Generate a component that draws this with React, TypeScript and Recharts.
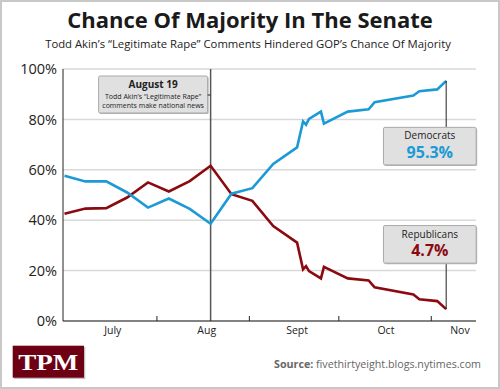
import React from 'react';
import { LineChart, Line, XAxis, YAxis, CartesianGrid, ReferenceLine, ReferenceDot } from 'recharts';

// days counted from July 1
const days = [0, 7, 14, 21, 28, 35, 42, 49, 56, 63, 70, 78, 80, 81, 82, 86, 87, 95, 102, 104, 117, 119, 125, 128];
const democrats = [57.6, 55.4, 55.4, 51.0, 45.0, 48.6, 44.5, 38.6, 50.5, 52.7, 62.3, 68.9, 79.2, 77.9, 80.2, 83.1, 78.3, 83.1, 84.0, 86.8, 89.5, 91.2, 91.9, 95.3];
const republicans = [42.6, 44.6, 44.8, 49.0, 55.0, 51.4, 55.5, 61.6, 50.3, 47.7, 37.7, 31.1, 20.5, 21.8, 19.8, 16.9, 21.5, 16.9, 16.1, 13.4, 10.5, 8.6, 7.9, 4.7];

const monthLabels = ['July', 'Aug', 'Sept', 'Oct', 'Nov'];
const monthLabelDays = [16.2, 47.7, 78, 107.8, 132.6];
const monthStartDays = [31, 62, 92, 123];
const yTicks = [0, 20, 40, 60, 80, 100];
const eventDay = 49;
const eventTitle = 'August 19';
const eventLines = ['Todd Akin\u2019s \u201cLegitimate Rape\u201d', 'comments make national news'];

const data = days.map((d, i) => ({ day: d, dem: democrats[i], rep: republicans[i] }));
const lastIdx = days.length - 1;

const BLUE = '#1b9ad6';
const RED = '#8b0a10';
const FONT = '"Open Sans", "DejaVu Sans", sans-serif';

const XTick = (props: any) => {
  const { x, y, payload } = props;
  const v = payload.value;
  const li = monthLabelDays.indexOf(v);
  if (li >= 0) {
    return (
      <text x={x} y={y + 13} textAnchor="middle" fontSize={10.5} fill="#222" fontFamily={FONT}>
        {monthLabels[li]}
      </text>
    );
  }
  return <line x1={x} x2={x} y1={y - 5} y2={y} stroke="#222" strokeWidth={1} />;
};

const EventLabel = (props: any) => {
  const vb = props.viewBox || {};
  const x = vb.x;
  const top = vb.y;
  const bx = x - 112;
  const by = top + 7;
  const bw = 109;
  const bh = 37;
  return (
    <g>
      <rect x={bx + 1} y={by + 1} width={bw} height={bh} fill="#b5b5b5" rx={1.5} />
      <rect x={bx} y={by} width={bw} height={bh} fill="#e0e0e0" stroke="#a9a9a9" strokeWidth={1} rx={1.5} />
      <line x1={bx + bw} x2={x} y1={top + 26} y2={top + 26} stroke="#222" strokeWidth={1} />
      <text x={bx + bw / 2} y={by + 12} textAnchor="middle" fontSize={10} fontWeight="bold" fill="#222" fontFamily={FONT}>
        {eventTitle}
      </text>
      <text x={bx + bw / 2} y={by + 22.5} textAnchor="middle" fontSize={7} fill="#222" fontFamily={FONT}>
        {eventLines[0]}
      </text>
      <text x={bx + bw / 2} y={by + 31.5} textAnchor="middle" fontSize={7} fill="#222" fontFamily={FONT}>
        {eventLines[1]}
      </text>
    </g>
  );
};

const makeCallout = (name: string, value: number, color: string, below: boolean) => (props: any) => {
  const { cx, cy } = props;
  const bw = 92.7;
  const bh = 37.6;
  const bx = cx - 62.7;
  const by = below ? cy + 46.5 : cy - 46 - bh;
  return (
    <g>
      <line x1={cx} x2={cx} y1={cy} y2={below ? by : by + bh} stroke="#222" strokeWidth={1} />
      <rect x={bx + 1} y={by + 1} width={bw} height={bh} fill="#b5b5b5" rx={1.5} />
      <rect x={bx} y={by} width={bw} height={bh} fill="#e0e0e0" stroke="#a9a9a9" strokeWidth={1} rx={1.5} />
      <text x={bx + bw / 2} y={by + 12} textAnchor="middle" fontSize={10} fill="#222" fontFamily={FONT}>
        {name}
      </text>
      <text x={bx + bw / 2} y={by + 30.5} textAnchor="middle" fontSize={16} fontWeight="bold" fill={color} fontFamily={FONT}>
        {value.toFixed(1) + '%'}
      </text>
    </g>
  );
};

export default function App() {
  return (
    <div style={{ position: 'absolute', left: 0, top: 0, width: 500, height: 389, background: '#fff' }}>
      <svg width={500} height={389} style={{ position: 'absolute', left: 0, top: 0 }}>
        <rect x={1} y={1} width={498} height={387} fill="none" stroke="#c8c8c8" strokeWidth={2} />
        <text x={250} y={28} textAnchor="middle" fontSize={22} fontWeight="bold" fill="#1a1a1a" fontFamily={FONT}>
          Chance Of Majority In The Senate
        </text>
        <text x={248} y={48} textAnchor="middle" fontSize={11.3} fill="#222" fontFamily={FONT}>
          Todd Akin’s “Legitimate Rape” Comments Hindered GOP’s Chance Of Majority
        </text>
        <rect x={14} y={347} width={71.3} height={32} fill="#999" opacity={0.6} />
        <rect x={12.7} y={345.7} width={71.3} height={32} fill="#6e0013" />
        <text x={48.3} y={369.5} textAnchor="middle" fontSize={23} fontWeight="bold" fill="#fff" fontFamily='"Liberation Serif", "DejaVu Serif", serif' textLength={60} lengthAdjust="spacingAndGlyphs">
          TPM
        </text>
        <text x={481} y={367.5} textAnchor="end" fontSize={10.7} fill="#666" fontFamily={FONT}>
          <tspan fontWeight="bold">Source:</tspan> fivethirtyeight.blogs.nytimes.com
        </text>
      </svg>
      <div style={{ position: 'absolute', left: 0, top: 0 }}>
        <LineChart width={500} height={389} data={data} margin={{ top: 69, right: 24, bottom: 38, left: 3 }}>
          <CartesianGrid horizontal={true} vertical={false} stroke="#d9d9d9" strokeWidth={1.5} />
          <XAxis
            dataKey="day"
            type="number"
            domain={[-0.5, 138]}
            ticks={[...monthLabelDays, ...monthStartDays].sort((a, b) => a - b)}
            interval={0}
            tick={<XTick />}
            tickLine={false}
            tickSize={0}
            tickMargin={0}
            axisLine={{ stroke: '#222', strokeWidth: 1 }}
            height={30}
          />
          <YAxis
            domain={[0, 100]}
            ticks={yTicks}
            tickFormatter={(v: number) => v + '%'}
            tickLine={false}
            tickSize={4}
            tickMargin={2}
            width={60}
            axisLine={{ stroke: '#222', strokeWidth: 1 }}
            tick={{ fontSize: 14.5, fill: '#222', fontFamily: FONT }}
          />
          <ReferenceLine x={eventDay} stroke="#555" strokeWidth={1.5} label={<EventLabel />} />
          <Line type="linear" dataKey="rep" stroke={RED} strokeWidth={2.6} dot={false} isAnimationActive={false} />
          <Line type="linear" dataKey="dem" stroke={BLUE} strokeWidth={2.6} dot={false} isAnimationActive={false} />
          <ReferenceDot x={days[lastIdx]} y={democrats[lastIdx]} shape={makeCallout('Democrats', democrats[lastIdx], BLUE, true)} />
          <ReferenceDot x={days[lastIdx]} y={republicans[lastIdx]} shape={makeCallout('Republicans', republicans[lastIdx], RED, false)} />
        </LineChart>
      </div>
    </div>
  );
}
